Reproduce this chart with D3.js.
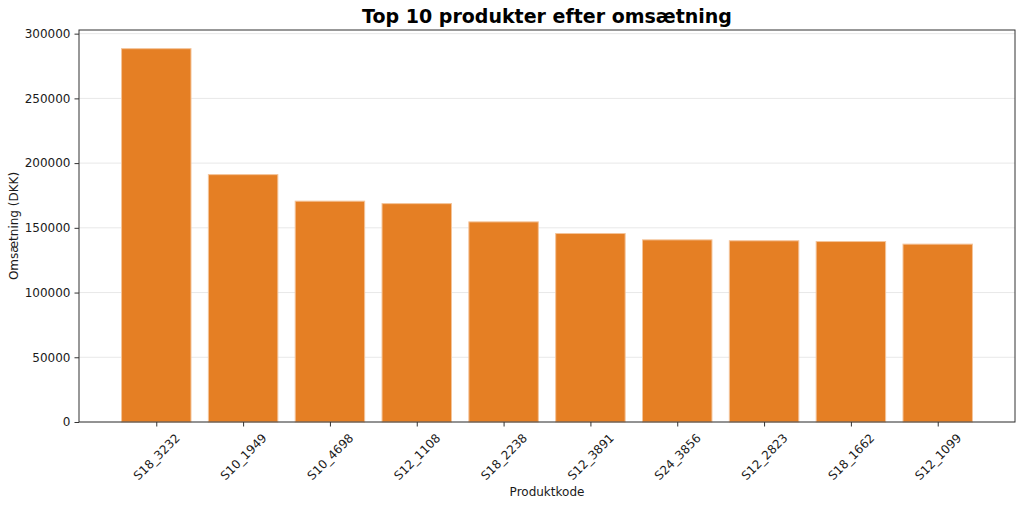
<!DOCTYPE html>
<html>
<head>
<meta charset="utf-8">
<script src="https://cdn.jsdelivr.net/npm/d3@7"></script>
<style>
  body { margin: 0; background: #fff; }
  svg { font-family: "DejaVu Sans", sans-serif; }
</style>
</head>
<body>
<svg id="chart" width="1024" height="506"></svg>
<script>
// Top 10 products by revenue
const products = ['S18_3232', 'S10_1949', 'S10_4698', 'S12_1108', 'S18_2238',
                  'S12_3891', 'S24_3856', 'S12_2823', 'S18_1662', 'S12_1099'];
const revenue = [288400, 191100, 170600, 168700, 154600, 145600, 140700, 140000, 139400, 137400];
const yTicks = [0, 50000, 100000, 150000, 200000, 250000, 300000];

const FONT = '"DejaVu Sans", sans-serif';
const W = 1024, H = 506;
const margin = { top: 30, right: 9, bottom: 84, left: 79 };
const width = W - margin.left - margin.right;
const height = H - margin.top - margin.bottom;

const svg = d3.select('#chart');
const g = svg.append('g').attr('transform', `translate(${margin.left},${margin.top})`);

// x: linear over bar index, like matplotlib with 5% margins
const n = products.length;
const span = (n - 1) + 0.8;
const pad = span * 0.05;
const x = d3.scaleLinear().domain([-0.4 - pad, n - 1 + 0.4 + pad]).range([0, width]);
const y = d3.scaleLinear().domain([0, 288400 * 1.05]).range([height, 0]);

// grid
g.append('g').selectAll('line').data(yTicks).enter().append('line')
  .attr('x1', 0).attr('x2', width)
  .attr('y1', d => y(d)).attr('y2', d => y(d))
  .attr('stroke', '#e8e8e8').attr('stroke-width', 1);

// bars
g.append('g').selectAll('rect').data(revenue).enter().append('rect')
  .attr('x', (d, i) => x(i - 0.4))
  .attr('width', x(0.4) - x(-0.4))
  .attr('y', d => y(d))
  .attr('height', d => height - y(d))
  .attr('fill', '#e57f24')
  .attr('stroke', '#f4c49a')
  .attr('stroke-width', 1);

// y axis
const yAxis = g.append('g')
  .call(d3.axisLeft(y).tickValues(yTicks).tickFormat(d3.format('d')).tickSizeOuter(0).tickSize(4.5).tickPadding(4))
  .attr('font-family', FONT).attr('font-size', 12);
yAxis.select('.domain').remove();
yAxis.selectAll('text').attr('fill', '#1a1a1a');
yAxis.selectAll('line').attr('stroke', '#333');

// x axis
const xAxis = g.append('g').attr('transform', `translate(0,${height})`)
  .call(d3.axisBottom(x).tickValues(d3.range(n)).tickFormat(i => products[i]).tickSizeOuter(0).tickSize(4.5))
  .attr('font-family', FONT).attr('font-size', 12);
xAxis.select('.domain').remove();
xAxis.selectAll('line').attr('stroke', '#333');
xAxis.selectAll('text')
  .attr('fill', '#1a1a1a')
  .attr('y', 0).attr('dy', null)
  .attr('text-anchor', 'middle')
  .attr('dominant-baseline', 'central')
  .attr('transform', 'translate(0,35) rotate(-45)');

// frame
g.append('rect').attr('width', width).attr('height', height)
  .attr('fill', 'none').attr('stroke', '#333').attr('stroke-width', 1);

// title and labels
svg.append('text')
  .attr('x', margin.left + width / 2).attr('y', 23)
  .attr('text-anchor', 'middle')
  .attr('font-size', 19).attr('font-weight', 'bold').attr('fill', '#000')
  .text('Top 10 produkter efter omsætning');

svg.append('text')
  .attr('x', margin.left + width / 2).attr('y', 496)
  .attr('text-anchor', 'middle')
  .attr('font-size', 12).attr('fill', '#1a1a1a')
  .text('Produktkode');

svg.append('text')
  .attr('transform', `translate(18,${margin.top + height / 2}) rotate(-90)`)
  .attr('text-anchor', 'middle')
  .attr('font-size', 12).attr('fill', '#1a1a1a')
  .text('Omsætning (DKK)');
</script>
</body>
</html>
